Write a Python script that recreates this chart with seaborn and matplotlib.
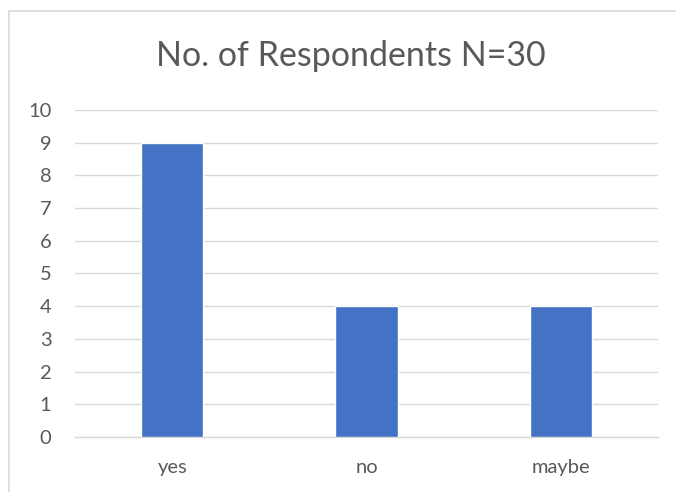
import matplotlib
matplotlib.use("Agg")
import matplotlib.pyplot as plt
import seaborn as sns
import pandas as pd
from matplotlib.patches import Rectangle

# data
categories = ["yes", "no", "maybe"]
respondents = [9, 4, 4]
title = "No. of Respondents N=30"

BAR_COLOR = "#4472C4"
GRID_COLOR = "#D9D9D9"
TEXT_COLOR = "#595959"

sns.set_theme(style="white")
plt.rcParams["font.family"] = ["Lato", "DejaVu Sans"]

df = pd.DataFrame({"answer": categories, "count": respondents})

fig = plt.figure(figsize=(6.76, 4.92), dpi=100)

# chart frame (Excel style border, cut off at right and bottom)
frame = Rectangle((9 / 676, -0.1), 1.2, 1 - 11 / 492 + 0.1,
                  transform=fig.transFigure, fill=False,
                  edgecolor=GRID_COLOR, linewidth=1.2)
fig.patches.append(frame)

ax = fig.add_axes([75 / 676, 55 / 492, 583 / 676, 327 / 492])
sns.barplot(data=df, x="answer", y="count", color=BAR_COLOR,
            width=0.32, saturation=1, ax=ax, zorder=3)

ax.set_ylim(0, 10)
ax.set_yticks(range(0, 11))
ax.set_xlim(-0.5, 2.5)
ax.grid(axis="y", color=GRID_COLOR, linewidth=1, zorder=0)
ax.set_axisbelow(True)
for side in ["top", "right", "left"]:
    ax.spines[side].set_visible(False)
ax.spines["bottom"].set_color(GRID_COLOR)
ax.spines["bottom"].set_linewidth(1)
ax.set_xlabel("")
ax.set_ylabel("")
ax.tick_params(axis="both", length=0, labelsize=14.5, colors=TEXT_COLOR)
ax.tick_params(axis="y", pad=17)
ax.tick_params(axis="x", pad=16)

fig.text(351 / 676, 1 - 56 / 492, title,
         ha="center", va="center", fontsize=24.5, color=TEXT_COLOR)

fig.savefig("out.png", dpi=100)
